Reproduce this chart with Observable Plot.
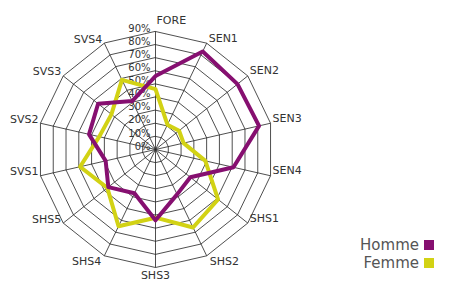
<!DOCTYPE html>
<html><head><meta charset="utf-8">
<script src="https://cdn.jsdelivr.net/npm/d3@7"></script>
<script src="https://cdn.jsdelivr.net/npm/@observablehq/plot@0.6"></script>
<style>
body{margin:0;background:#fff;font-family:"DejaVu Sans",sans-serif;}
#wrap{position:relative;width:450px;height:287px;overflow:hidden;}
#wrap svg{position:absolute;left:0;top:0;}
.leg{position:absolute;right:16px;height:18px;display:flex;align-items:center;gap:5px;font-size:15px;color:#555;}
.sw{display:inline-block;width:10px;height:10px;}
</style></head><body>
<div id="wrap"></div>
<script>
const categories = ["FORE","SEN1","SEN2","SEN3","SEN4","SHS1","SHS2","SHS3","SHS4","SHS5","SVS1","SVS2","SVS3","SVS4"];
const homme = [56, 83, 80, 81, 61, 34, 38, 54, 37, 46, 39, 52, 56, 41];
const femme = [46, 21, 23, 22, 39, 61, 66, 52, 65, 47, 59, 44, 43, 59];
const seriesNames = ["Homme", "Femme"];
const seriesColors = ["#860f70", "#d2d214"];
const tickLevels = [0, 10, 20, 30, 40, 50, 60, 70, 80, 90];
const tickLabels = ["0%", "10%", "20%", "30%", "40%", "50%", "60%", "70%", "80%", "90%"];

const n = categories.length;
const maxV = tickLevels[tickLevels.length - 1];
const ang = i => 2 * Math.PI * i / n;
const px = (v, i) => v * Math.sin(ang(i));
const py = (v, i) => v * Math.cos(ang(i));

const rows = [];
[homme, femme].forEach((vals, k) => vals.forEach((v, i) => rows.push({series: seriesNames[k], i, value: v})));
const rings = [];
tickLevels.filter(l => l > 0).forEach(level => categories.forEach((c, i) => rings.push({level, i})));
const spokes = categories.map((c, i) => ({c, i}));
const ticks = tickLevels.map((v, k) => ({v, label: tickLabels[k]}));

function labelGroup(i) {
  const a = 360 * i / n;
  if (a === 0) return "top";
  if (a > 0 && a < 150) return "rightUp";
  if (a >= 150 && a < 175) return "rightDown";
  if (a >= 175 && a <= 185) return "bottom";
  if (a > 185 && a < 215) return "leftDown";
  return "leftUp";
}
const labelMark = (g, opts) => Plot.text(spokes.filter(d => labelGroup(d.i) === g), {
  x: d => px(maxV, d.i), y: d => py(maxV, d.i), text: "c",
  fontSize: 11, fill: "#333", ...opts
});

const chart = Plot.plot({
  width: 450, height: 287, margin: 0,
  style: {fontFamily: "'DejaVu Sans', sans-serif", background: "transparent"},
  x: {domain: [-maxV, maxV], range: [37, 273], axis: null},
  y: {domain: [-maxV, maxV], range: [267, 31], axis: null},
  marks: [
    Plot.line(rings, {x: d => px(d.level, d.i), y: d => py(d.level, d.i), z: "level", curve: "linear-closed", stroke: "#222", strokeWidth: 0.8}),
    Plot.link(spokes, {x1: d => 0, y1: d => 0, x2: d => px(maxV, d.i), y2: d => py(maxV, d.i), stroke: "#222", strokeWidth: 0.8}),
    Plot.text(ticks, {x: d => 0, y: d => d.v, text: "label", textAnchor: "end", dx: -5, dy: -3, fontSize: 10, fill: "#333"}),
    Plot.line(rows.filter(d => d.series === "Femme"), {x: d => px(d.value, d.i), y: d => py(d.value, d.i), curve: "linear-closed", stroke: seriesColors[1], strokeWidth: 4, strokeLinejoin: "round"}),
    Plot.line(rows.filter(d => d.series === "Homme"), {x: d => px(d.value, d.i), y: d => py(d.value, d.i), curve: "linear-closed", stroke: seriesColors[0], strokeWidth: 4, strokeLinejoin: "round"}),
    labelMark("top", {textAnchor: "start", dx: 1, dy: -11}),
    labelMark("rightUp", {textAnchor: "start", dx: 2, dy: -5}),
    labelMark("rightDown", {textAnchor: "start", dx: 3, dy: 6}),
    labelMark("bottom", {textAnchor: "middle", dy: 8}),
    labelMark("leftDown", {textAnchor: "end", dx: -3, dy: 6}),
    labelMark("leftUp", {textAnchor: "end", dx: -2, dy: -4})
  ]
});
const wrap = document.getElementById("wrap");
wrap.appendChild(chart);
seriesNames.forEach((s, k) => {
  const div = document.createElement("div");
  div.className = "leg";
  div.style.top = (236 + 18 * k) + "px";
  div.innerHTML = `<span>${s}</span><span class="sw" style="background:${seriesColors[k]}"></span>`;
  wrap.appendChild(div);
});
</script>
</body></html>
